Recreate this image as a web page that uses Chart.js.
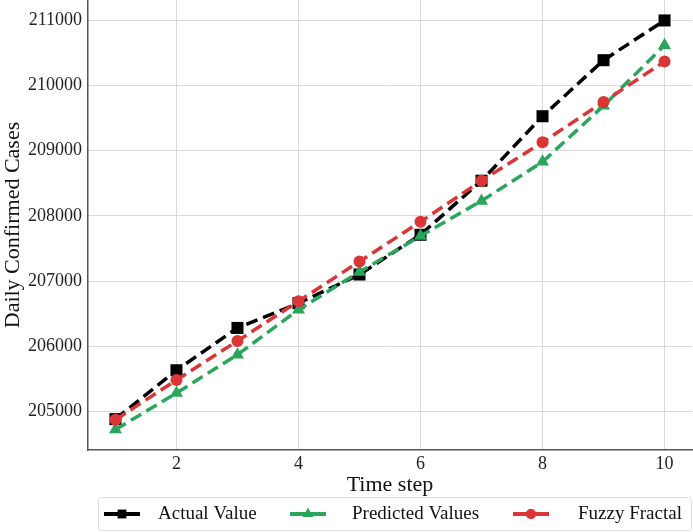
<!DOCTYPE html>
<html>
<head>
<meta charset="utf-8">
<script src="https://cdn.jsdelivr.net/npm/chart.js@4"></script>
<style>
  html, body { margin: 0; padding: 0; background: #fff; }
  #wrap { width: 693px; height: 532px; }
</style>
</head>
<body>
<div id="wrap"><canvas id="chart" width="693" height="532"></canvas></div>
<script>
// Values
const timeSteps = [1, 2, 3, 4, 5, 6, 7, 8, 9, 10];
const actualValue = [204880, 205630, 206280, 206660, 207100, 207710, 208540, 209530, 210390, 211000];
const predictedValues = [204720, 205280, 205870, 206560, 207140, 207690, 208230, 208830, 209690, 210620];
const fuzzyFractal = [204870, 205480, 206080, 206690, 207300, 207910, 208540, 209130, 209750, 210370];
const xTicks = [2, 4, 6, 8, 10];
const yTicks = [205000, 206000, 207000, 208000, 209000, 210000, 211000];

const FONT = "'Liberation Serif', 'DejaVu Serif', serif";

function points(values) {
    return timeSteps.map((t, i) => ({ x: t, y: values[i] }));
}

const series = [
    { label: 'Actual Value', values: actualValue, color: '#000000', style: 'rect', radius: 8.5, legendRadius: 6, order: 3 },
    { label: 'Predicted Values', values: predictedValues, color: '#2aa55c', style: 'triangle', radius: 7.5, legendRadius: 6, order: 2 },
    { label: 'Fuzzy Fractal', values: fuzzyFractal, color: '#dc3535', style: 'circle', radius: 6, legendRadius: 5, order: 1 }
];

// Legend below the axis, line + marker like the reference
const bottomLegend = {
    id: 'bottomLegend',
    afterDraw(chart) {
        const ctx = chart.ctx;
        ctx.save();
        ctx.strokeStyle = '#dddddd';
        ctx.lineWidth = 1;
        ctx.beginPath();
        ctx.roundRect(98.5, 497.5, 593, 33, 3);
        ctx.stroke();

        const y = 514;
        const spots = [
            { mark: 122, text: 158 },
            { mark: 308, text: 352 },
            { mark: 531, text: 578 }
        ];
        series.forEach((s, i) => {
            const p = spots[i];
            ctx.strokeStyle = s.color;
            ctx.lineWidth = 4;
            ctx.setLineDash([]);
            ctx.beginPath();
            ctx.moveTo(p.mark - 18, y);
            ctx.lineTo(p.mark + 18, y);
            ctx.stroke();
            ctx.fillStyle = s.color;
            Chart.helpers.drawPoint(ctx, { pointStyle: s.style, radius: s.legendRadius, borderWidth: 0 }, p.mark, y);
            ctx.fill();
            ctx.fillStyle = '#111';
            ctx.font = '19px ' + FONT;
            ctx.textBaseline = 'middle';
            ctx.textAlign = 'left';
            ctx.fillText(s.label, p.text, y);
        });
        ctx.restore();
    }
};

const ctx = document.getElementById('chart');
new Chart(ctx, {
    type: 'line',
    data: {
        datasets: series.map(s => ({
            label: s.label,
            data: points(s.values),
            borderColor: s.color,
            backgroundColor: s.color,
            borderWidth: 3.5,
            borderDash: [12, 6],
            pointStyle: s.style,
            pointRadius: s.radius,
            pointBorderWidth: 0,
            pointBackgroundColor: s.color,
            fill: false,
            tension: 0,
            order: s.order
        }))
    },
    options: {
        responsive: false,
        animation: false,
        layout: { autoPadding: false, padding: { top: 0, right: 1, bottom: 34, left: 0 } },
        plugins: {
            legend: { display: false },
            tooltip: { enabled: false }
        },
        scales: {
            x: {
                type: 'linear',
                min: 0.55,
                max: 10.45,
                afterBuildTicks: scale => { scale.ticks = xTicks.map(v => ({ value: v })); },
                afterFit: scale => { scale.height = 48; scale.paddingLeft = 0; scale.paddingRight = 0; },
                grid: { color: '#dadada', lineWidth: 1, drawTicks: false },
                border: { color: '#555555', width: 1.5 },
                ticks: { color: '#222', padding: 3, font: { family: FONT, size: 18 } },
                title: { display: true, text: 'Time step', color: '#111', padding: { top: 0, bottom: 0 }, font: { family: FONT, size: 22 } }
            },
            y: {
                min: 204406,
                max: 211314,
                afterBuildTicks: scale => { scale.ticks = yTicks.map(v => ({ value: v })); },
                afterFit: scale => { scale.width = 88; scale.paddingTop = 0; scale.paddingBottom = 0; },
                grid: { color: '#dadada', lineWidth: 1, drawTicks: false },
                border: { color: '#555555', width: 1.5 },
                ticks: { color: '#222', padding: 6, font: { family: FONT, size: 18 }, callback: v => String(v) },
                title: { display: true, text: 'Daily Confirmed Cases', color: '#111', padding: { top: 0, bottom: 0 }, font: { family: FONT, size: 22 } }
            }
        }
    },
    plugins: [bottomLegend]
});
</script>
</body>
</html>
